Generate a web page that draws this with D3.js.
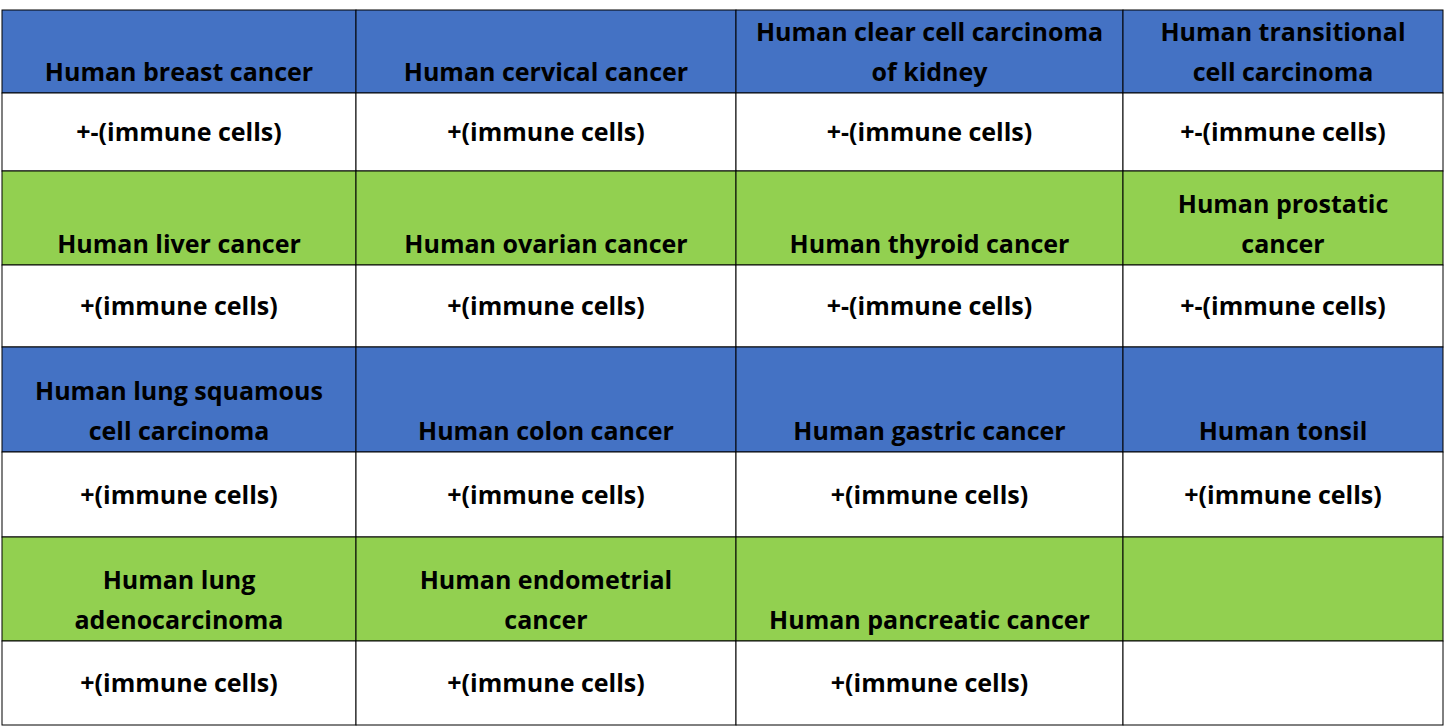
<!DOCTYPE html>
<html><head><meta charset="utf-8">
<script src="https://cdn.jsdelivr.net/npm/d3@7"></script>
<style>body{margin:0;background:#fff}</style>
</head><body><script>
// table content
var tissues = [
  ["Human breast cancer","Human cervical cancer","Human clear cell carcinoma\nof kidney","Human transitional\ncell carcinoma"],
  ["Human liver cancer","Human ovarian cancer","Human thyroid cancer","Human prostatic\ncancer"],
  ["Human lung squamous\ncell carcinoma","Human colon cancer","Human gastric cancer","Human tonsil"],
  ["Human lung\nadenocarcinoma","Human endometrial\ncancer","Human pancreatic cancer",""]
];
var results = [
  ["+-(immune cells)","+(immune cells)","+-(immune cells)","+-(immune cells)"],
  ["+(immune cells)","+(immune cells)","+-(immune cells)","+-(immune cells)"],
  ["+(immune cells)","+(immune cells)","+(immune cells)","+(immune cells)"],
  ["+(immune cells)","+(immune cells)","+(immune cells)",""]
];
var headerColors = ["#4472C4","#92D050","#4472C4","#92D050"];

// layout
var colEdges = [2, 356, 736, 1123, 1443];
var rowEdges = [10, 93, 171, 265, 347, 452, 537, 641, 725];

var svg = d3.select('body').append('svg').attr('width', 1445).attr('height', 727);
var font = "'Open Sans', sans-serif";

var cells = [];
tissues.forEach(function(row, i){
  row.forEach(function(t, j){
    cells.push({r: i*2, c: j, text: t, fill: headerColors[i], head: true});
    cells.push({r: i*2+1, c: j, text: results[i][j], fill: '#fff', head: false});
  });
});

var g = svg.selectAll('g.cell').data(cells).enter().append('g').attr('class','cell');
g.append('rect')
  .attr('x', function(d){ return colEdges[d.c]; })
  .attr('y', function(d){ return rowEdges[d.r]; })
  .attr('width', function(d){ return colEdges[d.c+1]-colEdges[d.c]; })
  .attr('height', function(d){ return rowEdges[d.r+1]-rowEdges[d.r]; })
  .attr('fill', function(d){ return d.fill; })
  .attr('stroke', '#000').attr('stroke-width', 1);

g.each(function(d){
  var lines = d.text ? d.text.split('\n') : [];
  var cx = (colEdges[d.c]+colEdges[d.c+1])/2;
  var base;
  if (d.head) base = rowEdges[d.r+1] - 12 - (lines.length-1)*40;
  else base = (rowEdges[d.r]+rowEdges[d.r+1])/2 + 9;
  lines.forEach(function(l, k){
    d3.select(this).append('text')
      .attr('x', cx).attr('y', base + k*40)
      .attr('text-anchor','middle')
      .attr('font-family', font).attr('font-weight','bold').attr('font-size', 25)
      .attr('fill','#000').text(l);
  }, this);
});
</script></body></html>
